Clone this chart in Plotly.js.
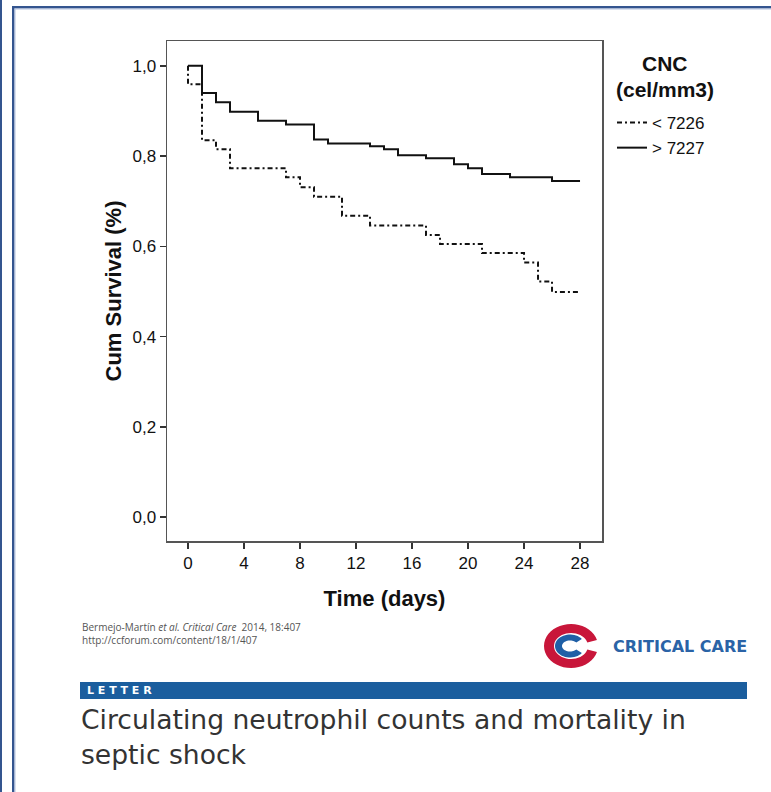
<!DOCTYPE html>
<html>
<head>
<meta charset="utf-8">
<script src="https://cdn.plot.ly/plotly-3.0.1.min.js"></script>
<style>
  html, body { margin: 0; padding: 0; background: #fff; }
  #chart { width: 771px; height: 792px; }
</style>
</head>
<body>
<div id="chart"></div>
<script>
// Kaplan-Meier survival by circulating neutrophil count (CNC) group
const groupNames = ['&lt; 7226', '&gt; 7227'];

// Low CNC group (< 7226 cel/mm3): event times (days) and cumulative survival
const lowTimes    = [0, 0, 1, 2, 3, 7, 8, 9, 11, 13, 17, 18, 21, 24, 25, 26, 28];
const lowSurvival = [1.0, 0.959, 0.835, 0.815, 0.773, 0.753, 0.731, 0.710, 0.668, 0.646, 0.625, 0.605, 0.585, 0.564, 0.522, 0.499, 0.499];

// High CNC group (> 7227 cel/mm3)
const highTimes    = [0, 1, 2, 3, 5, 7, 9, 10, 13, 14, 15, 17, 19, 20, 21, 23, 26, 28];
const highSurvival = [1.0, 0.940, 0.919, 0.898, 0.878, 0.870, 0.837, 0.828, 0.822, 0.815, 0.802, 0.795, 0.782, 0.773, 0.760, 0.753, 0.745, 0.745];

const xTicks = [0, 4, 8, 12, 16, 20, 24, 28];
const yTicks = [0, 0.2, 0.4, 0.6, 0.8, 1.0];

// page geometry (pixels) of the plotting area
const W = 771, H = 792;
const L = 167, R = 602, T = 41, B = 541;
const px = x => (x - L) / (R - L);
const py = y => (B - y) / (B - T);

const FONT = 'Liberation Sans, Arial, sans-serif';
const INK = '#111111';

const traces = [
  {
    x: lowTimes, y: lowSurvival, name: groupNames[0],
    type: 'scatter', mode: 'lines',
    line: { shape: 'hv', color: INK, width: 2, dash: '5px,3px,2px,3px' }
  },
  {
    x: highTimes, y: highSurvival, name: groupNames[1],
    type: 'scatter', mode: 'lines',
    line: { shape: 'hv', color: INK, width: 2 }
  }
];

// ring-shaped polygon (used for the journal mark)
function ringPath(cx, cy, rxo, ryo, rxi, ryi, a0, a1) {
  const n = 40, pts = [];
  for (let i = 0; i <= n; i++) {
    const a = (a0 + (a1 - a0) * i / n) * Math.PI / 180;
    pts.push([cx + rxo * Math.cos(a), cy - ryo * Math.sin(a)]);
  }
  for (let i = n; i >= 0; i--) {
    const a = (a0 + (a1 - a0) * i / n) * Math.PI / 180;
    pts.push([cx + rxi * Math.cos(a), cy - ryi * Math.sin(a)]);
  }
  return pts.map((p, i) => (i ? 'L' : 'M') + px(p[0]).toFixed(5) + ',' + py(p[1]).toFixed(5)).join(' ') + ' Z';
}

const frameBlue = '#34558f';
const shapes = [
  // outer frame lines
  { type: 'rect', xref: 'paper', yref: 'paper', x0: px(0), x1: px(2), y0: py(H), y1: py(0), fillcolor: frameBlue, line: { width: 0 }, layer: 'below' },
  { type: 'rect', xref: 'paper', yref: 'paper', x0: px(12), x1: px(14.5), y0: py(H), y1: py(6), fillcolor: frameBlue, line: { width: 0 }, layer: 'below' },
  { type: 'rect', xref: 'paper', yref: 'paper', x0: px(12), x1: px(W), y0: py(8.5), y1: py(6), fillcolor: frameBlue, line: { width: 0 }, layer: 'below' },
  { type: 'rect', xref: 'paper', yref: 'paper', x0: px(14.5), x1: px(15.5), y0: py(H), y1: py(8.5), fillcolor: '#b4c2de', line: { width: 0 }, layer: 'below' },
  { type: 'rect', xref: 'paper', yref: 'paper', x0: px(14.5), x1: px(W), y0: py(9.5), y1: py(8.5), fillcolor: '#b4c2de', line: { width: 0 }, layer: 'below' },
  // journal mark
  { type: 'path', xref: 'paper', yref: 'paper', path: ringPath(571, 646, 27, 22, 17, 13, 16, 344), fillcolor: '#c8163a', line: { width: 0 } },
  { type: 'path', xref: 'paper', yref: 'paper', path: ringPath(570, 646, 15, 11.5, 8, 5.5, 38, 322), fillcolor: '#1f5fa6', line: { width: 0 } },
  // "LETTER" banner
  { type: 'rect', xref: 'paper', yref: 'paper', x0: px(80), x1: px(747), y0: py(699), y1: py(682), fillcolor: '#1b5e9e', line: { width: 0 } }
];

const annotations = [
  // legend heading
  { text: '<b>CNC</b>', x: px(665), y: py(63), xref: 'paper', yref: 'paper', xanchor: 'center', yanchor: 'middle', showarrow: false, font: { family: FONT, size: 21, color: INK } },
  { text: '<b>(cel/mm3)</b>', x: px(665), y: py(90), xref: 'paper', yref: 'paper', xanchor: 'center', yanchor: 'middle', showarrow: false, font: { family: FONT, size: 21, color: INK } },
  // citation block
  { text: 'Bermejo-Martín <i>et al. Critical Care</i>  2014, 18:407<br>http://ccforum.com/content/18/1/407', x: px(80), y: py(633.5), xref: 'paper', yref: 'paper', xanchor: 'left', yanchor: 'middle', align: 'left', showarrow: false, font: { family: 'Open Sans, sans-serif', size: 10, color: '#555' } },
  { text: '<b>CRITICAL CARE</b>', x: px(611), y: py(646), xref: 'paper', yref: 'paper', xanchor: 'left', yanchor: 'middle', showarrow: false, font: { family: 'DejaVu Sans, sans-serif', size: 16, color: '#2a63a6' } },
  { text: '<b>L E T T E R</b>', x: px(85), y: py(690.5), xref: 'paper', yref: 'paper', xanchor: 'left', yanchor: 'middle', showarrow: false, font: { family: 'DejaVu Sans, sans-serif', size: 11, color: '#ffffff' } },
  // article title
  { text: 'Circulating neutrophil counts and mortality in<br>septic shock', x: px(79), y: py(737), xref: 'paper', yref: 'paper', xanchor: 'left', yanchor: 'middle', align: 'left', showarrow: false, font: { family: 'DejaVu Sans, sans-serif', size: 26.6, color: '#333333' } }
];

const layout = {
  width: W, height: H,
  margin: { l: L, r: W - R, t: T, b: H - B, pad: 0 },
  paper_bgcolor: '#ffffff', plot_bgcolor: '#ffffff',
  separators: ',.',
  font: { family: FONT, color: INK },
  showlegend: true,
  legend: {
    x: px(612), y: py(105), xanchor: 'left', yanchor: 'top',
    bgcolor: 'rgba(0,0,0,0)', borderwidth: 0,
    font: { family: FONT, size: 17, color: INK },
    itemwidth: 30, traceorder: 'normal', tracegroupgap: 0
  },
  xaxis: {
    range: [-1.5, 29.57], tickvals: xTicks, ticktext: xTicks.map(String),
    ticks: 'outside', ticklen: 6, tickwidth: 1.5, tickcolor: '#333',
    showline: true, mirror: true, linecolor: '#555', linewidth: 1.5,
    showgrid: false, zeroline: false,
    tickfont: { family: FONT, size: 17, color: INK },
    title: { text: '<b>Time (days)</b>', font: { family: FONT, size: 22, color: INK }, standoff: 18 },
    fixedrange: true
  },
  yaxis: {
    range: [-0.053, 1.055], tickvals: yTicks, tickformat: '.1f',
    ticks: 'outside', ticklen: 6, tickwidth: 1.5, tickcolor: '#333',
    showline: true, mirror: true, linecolor: '#555', linewidth: 1.5,
    showgrid: false, zeroline: false,
    tickfont: { family: FONT, size: 17, color: INK },
    title: { text: '<b>Cum Survival (%)</b>', font: { family: FONT, size: 22, color: INK }, standoff: 5 },
    fixedrange: true
  },
  shapes: shapes,
  annotations: annotations
};

Plotly.newPlot('chart', traces, layout, { displayModeBar: false, staticPlot: true });
</script>
</body>
</html>
